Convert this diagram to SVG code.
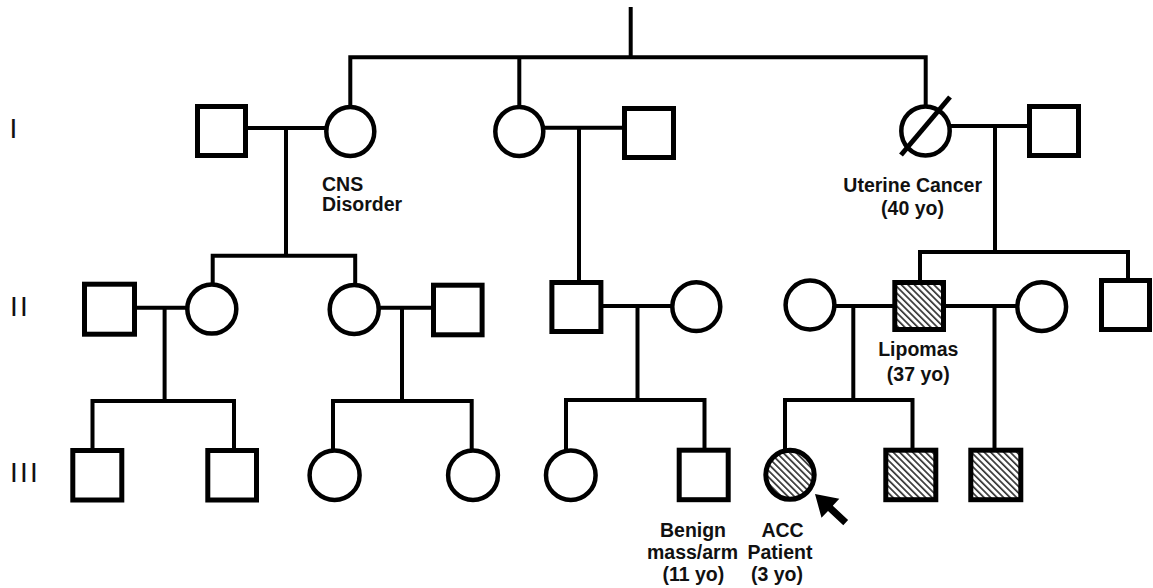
<svg xmlns="http://www.w3.org/2000/svg" width="1153" height="588" viewBox="0 0 1153 588">
<style>
.ln{fill:none;stroke:#000;stroke-width:4;stroke-linejoin:miter}
.sq{fill:#fff;stroke:#000;stroke-width:5}
.ci{fill:#fff;stroke:#000;stroke-width:4.5}
.aff{fill:url(#hatch)}
.lb{font-family:"Liberation Sans",Arial,sans-serif;font-weight:bold;font-size:19.5px;fill:#111}
.gen{font-family:"Liberation Sans",Arial,sans-serif;font-size:28px;letter-spacing:2.2px;fill:#111}
</style>
<defs>
<pattern id="hatch" patternUnits="userSpaceOnUse" width="4.6" height="4.6" patternTransform="rotate(45)">
<rect width="4.6" height="4.6" fill="#fff"/>
<line x1="0" y1="1" x2="4.6" y2="1" stroke="#333" stroke-width="1.7"/>
</pattern>
</defs>
<rect width="1153" height="588" fill="#fff"/>
<g id="generations">
<text class="gen" x="9.5" y="138">I</text>
<text class="gen" x="10" y="316">II</text>
<text class="gen" x="10" y="482">III</text>
</g>
<g id="connectors">
<path class="ln" d="M630.7 7 V57.3"/>
<path class="ln" d="M350.3 106 V57.3 H925.7 V105"/>
<path class="ln" d="M519.3 57.3 V106"/>
<path class="ln" d="M248 128 H326"/>
<path class="ln" d="M543.5 127.7 H623"/>
<path class="ln" d="M950 126 H1028"/>
<path class="ln" d="M286 128 V255.7"/>
<path class="ln" d="M212.7 283 V255.7 H355.2 V283"/>
<path class="ln" d="M579 127.7 V281"/>
<path class="ln" d="M995 126 V252"/>
<path class="ln" d="M920 281 V252 H1128 V279"/>
<path class="ln" d="M136 307.7 H188"/>
<path class="ln" d="M378 307.7 H432"/>
<path class="ln" d="M602 306 H673"/>
<path class="ln" d="M833 306 H893"/>
<path class="ln" d="M945 306 H1018"/>
<path class="ln" d="M164.6 307.7 V401"/>
<path class="ln" d="M402 307.7 V401"/>
<path class="ln" d="M637.5 306 V400"/>
<path class="ln" d="M853.3 306 V400"/>
<path class="ln" d="M994.5 306 V449"/>
<path class="ln" d="M92.5 449 V401 H234 V449"/>
<path class="ln" d="M333 450 V401 H471.7 V450"/>
<path class="ln" d="M566 450 V400 H704.5 V449"/>
<path class="ln" d="M785 450 V400 H912.5 V449"/>
</g>
<g id="I-1"><rect class="sq" x="197.5" y="106.5" width="48" height="49"/></g>
<g id="I-2"><ellipse class="ci" cx="350.3" cy="131.5" rx="24" ry="24.5"/>
<text class="lb" x="322" y="191">CNS</text><text class="lb" x="322" y="211">Disorder</text></g>
<g id="I-3"><ellipse class="ci" cx="519.3" cy="131.5" rx="24" ry="24.5"/></g>
<g id="I-4"><rect class="sq" x="624.5" y="108.5" width="49" height="49"/></g>
<g id="I-5"><ellipse class="ci" cx="925.5" cy="131" rx="24.2" ry="24.5"/>
<line x1="901" y1="155" x2="950" y2="97" stroke="#000" stroke-width="5"/>
<text class="lb" x="912.7" y="191.5" text-anchor="middle">Uterine Cancer</text>
<text class="lb" x="912.5" y="215" text-anchor="middle">(40 yo)</text></g>
<g id="I-6"><rect class="sq" x="1029.5" y="106.5" width="49" height="49"/></g>
<g id="II-1"><rect class="sq" x="84.5" y="284.2" width="50" height="50"/></g>
<g id="II-2"><ellipse class="ci" cx="211.8" cy="309" rx="24.5" ry="24.6"/></g>
<g id="II-3"><ellipse class="ci" cx="354.2" cy="309.5" rx="24.5" ry="24.5"/></g>
<g id="II-4"><rect class="sq" x="433.5" y="285.2" width="48.6" height="49.6"/></g>
<g id="II-5"><rect class="sq" x="551.9" y="282.5" width="49" height="49"/></g>
<g id="II-6"><ellipse class="ci" cx="696.3" cy="306.7" rx="24" ry="24.4"/></g>
<g id="II-7"><ellipse class="ci" cx="810" cy="305" rx="24.4" ry="24.4"/></g>
<g id="II-8"><rect class="sq aff" x="894.8" y="282.5" width="48.7" height="47"/>
<text class="lb" x="918.3" y="356" text-anchor="middle">Lipomas</text>
<text class="lb" x="918.3" y="381" text-anchor="middle">(37 yo)</text></g>
<g id="II-9"><ellipse class="ci" cx="1041.7" cy="306.7" rx="24.4" ry="24.4"/></g>
<g id="II-10"><rect class="sq" x="1101.5" y="280.5" width="48" height="49"/></g>
<g id="III-1"><rect class="sq" x="72.8" y="450.5" width="49" height="49.5"/></g>
<g id="III-2"><rect class="sq" x="207.8" y="450.5" width="48.7" height="49.5"/></g>
<g id="III-3"><ellipse class="ci" cx="334.6" cy="475.2" rx="25" ry="24.7"/></g>
<g id="III-4"><ellipse class="ci" cx="473" cy="475.2" rx="24.9" ry="24.7"/></g>
<g id="III-5"><ellipse class="ci" cx="570.8" cy="475.2" rx="24.8" ry="24.7"/></g>
<g id="III-6"><rect class="sq" x="679.2" y="450.2" width="49" height="49.5"/>
<text class="lb" x="693" y="536.7" text-anchor="middle">Benign</text>
<text class="lb" x="692.5" y="558.5" text-anchor="middle">mass/arm</text>
<text class="lb" x="693.3" y="581" text-anchor="middle">(11 yo)</text></g>
<g id="III-7"><ellipse class="sq aff" cx="790" cy="474.8" rx="24.2" ry="24.5"/>
<polygon points="815,494 839.3,498.8 832.8,505.7 848.1,520 843.3,525.2 828,510.9 821.5,517.8" fill="#000"/>
<text class="lb" x="782.5" y="536.7" text-anchor="middle">ACC</text>
<text class="lb" x="780" y="558.5" text-anchor="middle">Patient</text>
<text class="lb" x="777" y="581" text-anchor="middle">(3 yo)</text></g>
<g id="III-8"><rect class="sq aff" x="885.8" y="450.2" width="50" height="49.5"/></g>
<g id="III-9"><rect class="sq aff" x="970.8" y="450.2" width="50" height="49.5"/></g>
</svg>
